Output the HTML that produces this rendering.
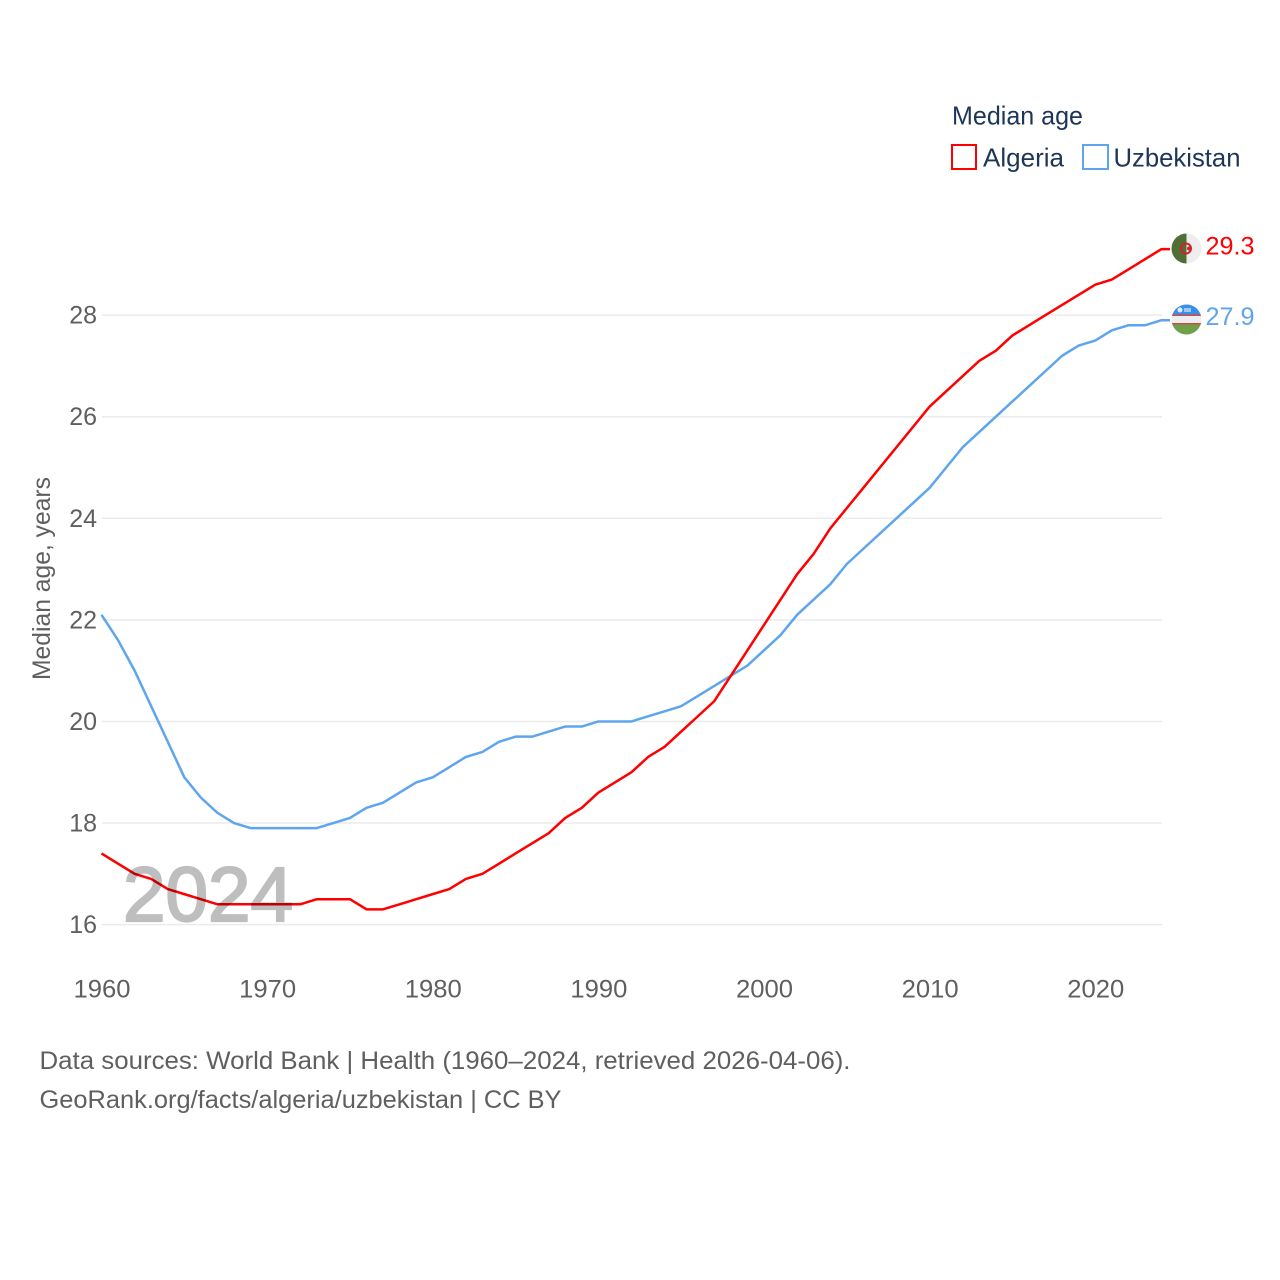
<!DOCTYPE html>
<html lang="en">
<head>
<meta charset="utf-8">
<title>Median age: Algeria and Uzbekistan</title>
<style>
html,body{margin:0;padding:0;background:#fff;width:1280px;height:1280px;overflow:hidden}
svg{display:block;font-family:"Liberation Sans",sans-serif}
</style>
</head>
<body>
<svg id="chart" xmlns="http://www.w3.org/2000/svg" width="1280" height="1280" viewBox="0 0 1280 1280">
  <defs>
    <clipPath id="flag-clip-a"><circle cx="1186.5" cy="248.5" r="15"/></clipPath>
    <clipPath id="flag-clip-u"><circle cx="1186.5" cy="319.5" r="15"/></clipPath>
  </defs>
  <g id="grid"></g>
  <g id="ylabels"></g>
  <g id="xlabels"></g>
  <g id="series"></g>
  <text x="123" y="921" font-size="77" fill="#000" stroke="#000" stroke-width="2.200" opacity="0.25" textLength="170" lengthAdjust="spacingAndGlyphs">2024</text>
  <text transform="translate(50,680) rotate(-90)" font-size="25" fill="#5f5f5f" textLength="203" lengthAdjust="spacingAndGlyphs">Median age, years</text>

  <text x="952" y="124.500" font-size="26" fill="#1d3557" textLength="131" lengthAdjust="spacingAndGlyphs">Median age</text>
  <rect x="952" y="145" width="24" height="24" fill="#fff" stroke="#ff0000" stroke-width="2"/>
  <text x="983" y="166.500" font-size="26" fill="#1d3557" textLength="81" lengthAdjust="spacingAndGlyphs">Algeria</text>
  <rect x="1083" y="145" width="25" height="24" fill="#fff" stroke="#5ea5ee" stroke-width="2"/>
  <text x="1113.500" y="166.500" font-size="26" fill="#1d3557" textLength="127" lengthAdjust="spacingAndGlyphs">Uzbekistan</text>

  <g clip-path="url(#flag-clip-a)">
    <rect x="1171" y="233" width="15.500" height="31" fill="#4f6f34"/>
    <rect x="1186.500" y="233" width="15.500" height="31" fill="#eeeeee"/>
    <circle cx="1186" cy="248.500" r="5" fill="none" stroke="#d2232a" stroke-width="2"/>
    <circle cx="1189" cy="248.500" r="2" fill="#d2232a"/>
  </g>
  <g clip-path="url(#flag-clip-u)">
    <rect x="1171" y="304" width="31" height="10.500" fill="#3b8ee8"/>
    <rect x="1171" y="314.500" width="31" height="1.500" fill="#cf4a4a"/>
    <rect x="1171" y="316" width="31" height="7" fill="#eeeeee"/>
    <rect x="1171" y="323" width="31" height="1.500" fill="#cf4a4a"/>
    <rect x="1171" y="324.500" width="31" height="11" fill="#6fa04a"/>
    <circle cx="1180" cy="310" r="2.500" fill="#dcecff"/>
    <rect x="1184" y="308" width="7" height="4" fill="#9cc6f4"/>
  </g>

  <text x="1205.500" y="254.500" font-size="25" fill="#ff0000" textLength="49" lengthAdjust="spacingAndGlyphs">29.3</text>
  <text x="1205.500" y="325" font-size="25" fill="#5ea5ee" textLength="49" lengthAdjust="spacingAndGlyphs">27.9</text>

  <text x="39.500" y="1069" font-size="25" fill="#5f5f5f" textLength="811" lengthAdjust="spacingAndGlyphs">Data sources: World Bank | Health (1960–2024, retrieved 2026-04-06).</text>
  <text x="39.500" y="1108" font-size="25" fill="#5f5f5f" textLength="522" lengthAdjust="spacingAndGlyphs">GeoRank.org/facts/algeria/uzbekistan | CC BY</text>
</svg>
<script>
const startYear = 1960;
const yTicks = [16, 18, 20, 22, 24, 26, 28];
const xTicks = [1960, 1970, 1980, 1990, 2000, 2010, 2020];
const algeria = [17.4,17.2,17.0,16.9,16.7,16.6,16.5,16.4,16.4,16.4,16.4,16.4,16.4,16.5,16.5,16.5,16.3,16.3,16.4,16.5,16.6,16.7,16.9,17.0,17.2,17.4,17.6,17.8,18.1,18.3,18.6,18.8,19.0,19.3,19.5,19.8,20.1,20.4,20.9,21.4,21.9,22.4,22.9,23.3,23.8,24.2,24.6,25.0,25.4,25.8,26.2,26.5,26.8,27.1,27.3,27.6,27.8,28.0,28.2,28.4,28.6,28.7,28.9,29.1,29.3];
const uzbekistan = [22.1,21.6,21.0,20.3,19.6,18.9,18.5,18.2,18.0,17.9,17.9,17.9,17.9,17.9,18.0,18.1,18.3,18.4,18.6,18.8,18.9,19.1,19.3,19.4,19.6,19.7,19.7,19.8,19.9,19.9,20.0,20.0,20.0,20.1,20.2,20.3,20.5,20.7,20.9,21.1,21.4,21.7,22.1,22.4,22.7,23.1,23.4,23.7,24.0,24.3,24.6,25.0,25.4,25.7,26.0,26.3,26.6,26.9,27.2,27.4,27.5,27.7,27.8,27.8,27.9];

const NS = 'http://www.w3.org/2000/svg';
function xScale(year) { return 101.5 + (year - 1960) * 16.5625; }
function yScale(v) { return 924.6 - (v - 16) * 50.79; }
function make(tag, attrs, parent, text) {
  const el = document.createElementNS(NS, tag);
  for (const k in attrs) el.setAttribute(k, attrs[k]);
  if (text !== undefined) el.textContent = text;
  parent.appendChild(el);
  return el;
}
const gridG = document.getElementById('grid');
const yG = document.getElementById('ylabels');
const xG = document.getElementById('xlabels');
const seriesG = document.getElementById('series');

yTicks.forEach(function (t) {
  const line = make('line', {x1: 102, x2: 1162, y1: yScale(t), y2: yScale(t), stroke: '#ebebeb', 'stroke-width': 1.5}, gridG);
  
  
  const label = make('text', {x: 97, y: yScale(t) + 8.5, 'text-anchor': 'end', 'font-size': 25, fill: '#5f5f5f'}, yG, String(t));
  
  
});
xTicks.forEach(function (t) {
  const label = make('text', {x: xScale(t) + 0.5, y: 997.5, 'text-anchor': 'middle', 'font-size': 25, fill: '#5f5f5f', textLength: 57, lengthAdjust: 'spacingAndGlyphs'}, xG, String(t));
  
  
});
function drawSeries(values, color) {
  const pts = values.map(function (v, i) { return xScale(startYear + i).toFixed(2) + ',' + yScale(v).toFixed(2); });
  const last = values[values.length - 1];
  pts.push('1170,' + yScale(last).toFixed(2));
  return make('polyline', {points: pts.join(' '), fill: 'none', stroke: color, 'stroke-width': 2.5, 'stroke-linejoin': 'round'}, seriesG);
}
const uzLine = drawSeries(uzbekistan, '#5ea5ee');


const dzLine = drawSeries(algeria, '#ff0000');


</script>
</body>
</html>
